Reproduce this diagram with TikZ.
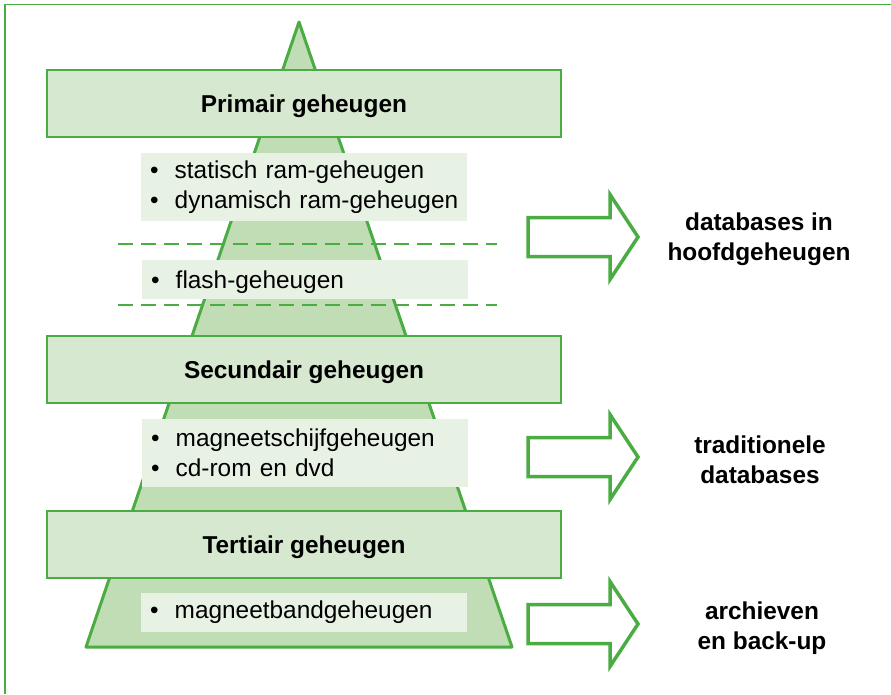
\documentclass[tikz,border=0pt]{standalone}
\usepackage{fontspec}
\setmainfont{Liberation Sans}
\usepackage{xcolor}
\usepackage{tikz}
\usetikzlibrary{positioning}
\definecolor{geGreen}{RGB}{76,172,68}
\definecolor{geDark}{RGB}{193,221,182}
\definecolor{geMid}{RGB}{214,232,208}
\definecolor{geLight}{RGB}{232,242,228}
\newcommand{\gefont}{\fontsize{24.4}{30}\selectfont}
\tikzset{
	layer/.style={draw=geGreen, line width=1.5pt, fill=geMid, rectangle,
		minimum width=514pt, minimum height=67pt, inner sep=0pt,
		text height=18pt, text depth=0pt, font=\gefont\bfseries},
	items/.style={fill=geLight, rectangle, anchor=west, text width=308pt,
		inner xsep=9pt, inner ysep=0pt, align=left},
	sep/.style={geGreen, line width=2.5pt, dash pattern=on 15pt off 8pt},
	blockarrow/.pic={
		\draw[geGreen, line width=3.5pt, fill=white, miter limit=20]
			(-55,-19.5) -- (27,-19.5) -- (27,-42.5) -- (55,0) -- (27,42.5)
			-- (27,19.5) -- (-55,19.5) -- cycle;
	},
	usage/.style={font=\gefont\bfseries, align=center}
}
\newcommand{\itm}[1]{\mbox{\textbullet\hspace{16pt}#1}}

\begin{document}
\begin{tikzpicture}[x=1pt, y=-1pt, font=\gefont]
	\useasboundingbox (0,0) rectangle (891,694);
	% frame
	\draw[geGreen, line width=1.5pt] (891,4.5) -- (5,4.5) -- (5,694);
	% pyramid
	\coordinate (apex) at (299,22);
	\coordinate (baseL) at (86,647);
	\coordinate (baseR) at (512,647);
	\draw[geGreen, line width=3pt, fill=geDark, line join=round] (apex) -- (baseR) -- (baseL) -- cycle;
	% layers
	\node[layer] (prim) at (304,103.5) {Primair geheugen};
	\node[layer] (sec) at (304,369.5) {Secundair geheugen};
	\node[layer] (ter) at (304,544.5) {Tertiair geheugen};
	% contents
	\node[items, minimum height=68pt] (ram) at (141,187) {\itm{statisch ram-geheugen}\\ \itm{dynamisch ram-geheugen}};
	\node[items, minimum height=39pt, text depth=0pt] (flash) at (142,279.5) {\itm{flash-geheugen}};
	\node[items, minimum height=68pt] (disk) at (142,453) {\itm{magneetschijfgeheugen}\\ \itm{cd-rom en dvd}};
	\node[items, minimum height=39pt] (tape) at (141,612.5) {\itm{magneetbandgeheugen}};
	\draw[sep] (118,244) -- (497,244);
	\draw[sep] (118,305) -- (497,305);
	% arrows and uses
	\pic (arr1) at (583,237) {blockarrow};
	\pic (arr2) at (583,457) {blockarrow};
	\pic (arr3) at (583,624) {blockarrow};
	\node[usage] (use1) at (759,239) {databases in\\ hoofdgeheugen};
	\node[usage] (use2) at (760,460) {traditionele\\ databases};
	\node[usage] (use3) at (762,628) {archieven\\ en back-up};
\end{tikzpicture}
\end{document}
